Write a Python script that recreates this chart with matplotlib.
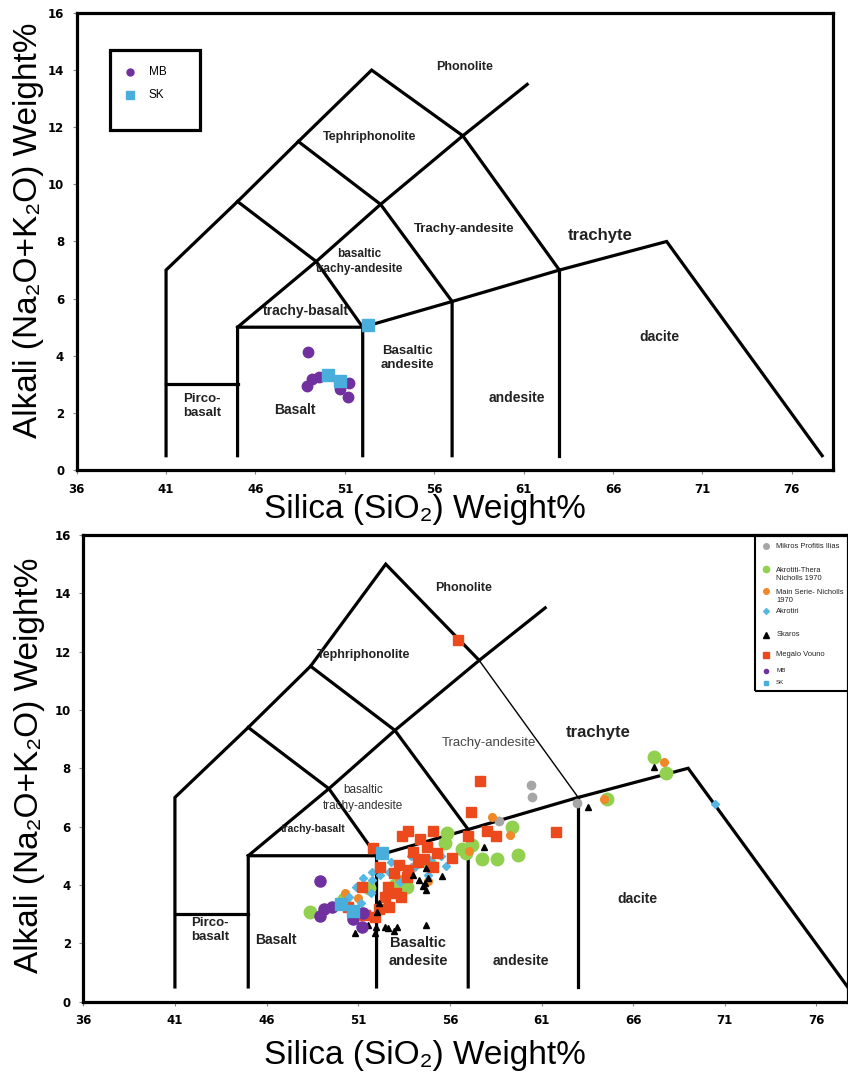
import matplotlib.pyplot as plt
from matplotlib.patches import Rectangle

# ---- TAS diagram data (SiO2 wt%, Na2O+K2O wt%) ----
mb_sio2 = [48.93, 49.15, 48.90, 49.58, 50.73, 51.24, 51.18]
mb_alk = [4.12, 3.18, 2.95, 3.25, 2.83, 3.04, 2.57]

sk_sio2 = [50.05, 50.73, 52.28]
sk_alk = [3.33, 3.12, 5.08]

mikros_sio2 = [60.42, 60.50, 58.68, 62.92, 53.99, 54.20]
mikros_alk = [7.42, 7.02, 6.19, 6.80, 4.62, 4.72]

thera_sio2 = [55.83, 55.73, 56.64, 57.19, 57.74, 58.55, 59.73, 59.37, 48.37, 51.59,
              53.64, 67.15, 67.79, 64.55, 50.20, 53.00, 54.90, 56.90]
thera_alk = [5.79, 5.42, 5.22, 5.37, 4.88, 4.88, 5.02, 6.00, 3.08, 3.88,
             3.94, 8.40, 7.85, 6.93, 3.50, 4.00, 4.70, 5.10]

main_sio2 = [58.28, 59.28, 50.28, 54.82, 57.06, 67.70, 64.42, 51.00, 53.20]
main_alk = [6.34, 5.71, 3.71, 4.14, 5.17, 8.22, 6.93, 3.55, 4.20]

akro_sio2 = [54.91, 55.77, 52.19, 52.69, 51.73, 51.27, 51.73, 50.88, 53.28, 54.10,
             54.82, 51.70, 51.13, 70.46, 50.50, 51.00, 52.80, 53.90, 55.50, 50.30]
akro_alk = [4.85, 4.65, 4.34, 4.45, 4.45, 4.22, 4.17, 3.94, 4.11, 4.65,
            4.34, 3.71, 3.37, 6.76, 3.60, 3.90, 4.80, 5.00, 5.00, 3.40]

skaros_sio2 = [57.88, 54.70, 55.59, 54.82, 54.00, 54.31, 54.64, 54.52, 54.68, 54.70,
               52.13, 52.04, 51.55, 51.97, 52.46, 52.64, 53.10, 52.97, 51.91, 50.82,
               67.15, 63.52]
skaros_alk = [5.29, 4.57, 4.31, 4.22, 4.34, 4.17, 4.05, 3.96, 3.82, 2.62,
              3.37, 3.08, 2.62, 2.57, 2.57, 2.51, 2.57, 2.43, 2.36, 2.36,
              8.03, 6.66]

megalo_sio2 = [57.65, 57.15, 53.70, 55.06, 53.40, 54.39, 58.01, 58.52, 57.00, 51.82,
               54.75, 54.00, 55.28, 56.10, 54.59, 54.28, 55.06, 53.73, 53.24, 52.19,
               52.95, 53.64, 51.22, 52.64, 53.04, 53.31, 52.46, 52.69, 52.15, 50.46,
               51.91, 51.37, 61.78, 56.46]
megalo_alk = [7.57, 6.51, 5.86, 5.86, 5.68, 5.57, 5.86, 5.68, 5.68, 5.25,
              5.31, 5.14, 5.08, 4.91, 4.88, 4.79, 4.60, 4.51, 4.68, 4.60,
              4.40, 4.28, 3.94, 3.94, 3.73, 3.57, 3.59, 3.25, 3.16, 3.25,
              2.91, 2.97, 5.82, 12.40]

x_ticks = [36, 41, 46, 51, 56, 61, 66, 71, 76]
y_ticks = [0, 2, 4, 6, 8, 10, 12, 14, 16]

PURPLE = '#7030a0'
BLUE = '#4aaedc'
GRAY = '#a6a6a6'
GREEN = '#92d050'
ORANGE = '#f0882a'
CYAN = '#55b8e4'
RED = '#ec4a1c'

LW = 2.3
tick_family = ['Liberation Sans Narrow', 'DejaVu Sans']
label_font = ['Liberation Sans', 'DejaVu Sans']


def draw_fields(ax, apex, thin_trachy=False):
    lines = [
        [(41, 0.5), (41, 7), (45, 9.4), (48.4, 11.5), (52.5, apex), (57.6, 11.7), (61.2, 13.5)],
        [(41, 3), (45, 3)],
        [(45, 0.5), (45, 5), (52, 5), (57, 5.9), (63, 7), (69, 8), (77.7, 0.5)],
        [(45, 5), (49.4, 7.3), (53, 9.3), (57.6, 11.7)],
        [(52, 0.5), (52, 5), (49.4, 7.3), (45, 9.4)],
        [(57, 0.5), (57, 5.9), (53, 9.3), (48.4, 11.5)],
        [(63, 0.5), (63, 7)],
    ]
    for pts in lines:
        xs, ys = zip(*pts)
        ax.plot(xs, ys, color='black', lw=LW, solid_joinstyle='miter', zorder=2)
    ax.plot([63, 57.6], [7, 11.7], color='black', lw=1.0 if thin_trachy else LW, zorder=2)


def style_axes(ax, xmax):
    ax.set_xlim(36, xmax)
    ax.set_ylim(0, 16)
    ax.set_xticks(x_ticks)
    ax.set_yticks(y_ticks)
    for s in ax.spines.values():
        s.set_linewidth(2.3)
    ax.tick_params(length=3, width=0.8, color='#888888', pad=6)
    for lab in ax.get_xticklabels() + ax.get_yticklabels():
        lab.set_fontfamily(tick_family)
        lab.set_fontweight('bold')
        lab.set_fontsize(8.5)
    ax.set_xlabel('Silica (SiO₂) Weight%', fontsize=24, family=label_font)
    ax.set_ylabel('Alkali (Na₂O+K₂O) Weight%', fontsize=24, family=label_font)


def field_text(ax, x, y, s, size=9.5, weight='bold', color='#222222', spacing=1.3):
    ax.text(x, y, s, ha='center', va='center', fontsize=size, fontweight=weight,
            color=color, family=label_font, linespacing=spacing, zorder=3)


fig = plt.figure(figsize=(8.48, 10.81), dpi=100)

# ---------------- upper diagram ----------------
ax1 = fig.add_axes([0.0904, 0.5652, 0.8918, 0.4228])
style_axes(ax1, 78.3)
draw_fields(ax1, 14.0)
ax1.xaxis.set_label_coords(0.46, -0.052)
ax1.yaxis.set_label_coords(-0.043, 0.525)

field_text(ax1, 57.67, 14.1, 'Phonolite', 9)
field_text(ax1, 52.4, 11.66, 'Tephriphonolite', 9)
field_text(ax1, 51.8, 7.3, 'basaltic\ntrachy-andesite', 8.5, spacing=1.35)
field_text(ax1, 57.7, 8.44, 'Trachy-andesite', 9.5)
field_text(ax1, 65.3, 8.2, 'trachyte', 12)
field_text(ax1, 48.85, 5.57, 'trachy-basalt', 10)
field_text(ax1, 68.6, 4.66, 'dacite', 10)
field_text(ax1, 54.5, 3.92, 'Basaltic\nandesite', 9.5)
field_text(ax1, 60.65, 2.52, 'andesite', 10)
field_text(ax1, 48.2, 2.1, 'Basalt', 10)
field_text(ax1, 43.0, 2.24, 'Pirco-\nbasalt', 9.5)

ax1.plot(mb_sio2, mb_alk, ls='none', marker='o', ms=7.5, color=PURPLE, zorder=4)
ax1.plot(sk_sio2, sk_alk, ls='none', marker='s', ms=9, color=BLUE, zorder=5)

# legend box
ax1.add_patch(Rectangle((0.044, 0.744), 0.119, 0.175, transform=ax1.transAxes,
                        fill=False, lw=2.3, ec='black', zorder=6))
ax1.plot([0.07], [0.870], marker='o', ms=5, color=PURPLE, transform=ax1.transAxes, zorder=6)
ax1.plot([0.07], [0.821], marker='s', ms=5.5, color=BLUE, transform=ax1.transAxes, zorder=6)
ax1.text(0.095, 0.870, 'MB', transform=ax1.transAxes, va='center', fontsize=8.5, family=label_font)
ax1.text(0.095, 0.821, 'SK', transform=ax1.transAxes, va='center', fontsize=8.5, family=label_font)

# ---------------- lower diagram ----------------
ax2 = fig.add_axes([0.0982, 0.0735, 0.9018, 0.4316])
style_axes(ax2, 77.72)
draw_fields(ax2, 15.0, thin_trachy=True)
ax2.xaxis.set_label_coords(0.447, -0.082)
ax2.yaxis.set_label_coords(-0.050, 0.507)

field_text(ax2, 56.77, 14.18, 'Phonolite', 9)
field_text(ax2, 51.31, 11.89, 'Tephriphonolite', 9)
field_text(ax2, 58.13, 8.87, 'Trachy-andesite', 9.5, weight='normal', color='#444444')
field_text(ax2, 64.08, 9.21, 'trachyte', 12)
field_text(ax2, 51.26, 6.98, 'basaltic\ntrachy-andesite', 8.5, weight='normal',
           color='#333333', spacing=1.4)
field_text(ax2, 48.54, 5.92, 'trachy-basalt', 7.5)
field_text(ax2, 66.21, 3.52, 'dacite', 10)
field_text(ax2, 46.52, 2.11, 'Basalt', 10)
field_text(ax2, 54.27, 1.70, 'Basaltic\nandesite', 10.5, spacing=1.35)
field_text(ax2, 59.90, 1.39, 'andesite', 10)
field_text(ax2, 42.92, 2.45, 'Pirco-\nbasalt', 9.5)

ax2.plot(mikros_sio2, mikros_alk, ls='none', marker='o', ms=6, color=GRAY, zorder=4)
ax2.plot(thera_sio2, thera_alk, ls='none', marker='o', ms=9, color=GREEN, zorder=4)
ax2.plot(main_sio2, main_alk, ls='none', marker='o', ms=5.5, color=ORANGE, zorder=4)
ax2.plot(akro_sio2, akro_alk, ls='none', marker='D', ms=4.5, color=CYAN, zorder=4)
ax2.plot(megalo_sio2, megalo_alk, ls='none', marker='s', ms=7, color=RED, zorder=4)
ax2.plot(skaros_sio2, skaros_alk, ls='none', marker='^', ms=5, color='black', zorder=4)
ax2.plot(mb_sio2, mb_alk, ls='none', marker='o', ms=8, color=PURPLE, zorder=5)
ax2.plot(sk_sio2, sk_alk, ls='none', marker='s', ms=9, color=BLUE, zorder=5)

# legend box
ax2.add_patch(Rectangle((0.878, 0.665), 0.2, 0.335, transform=ax2.transAxes,
                        fill=False, lw=1.5, ec='black', zorder=6, clip_on=False))
legend_rows = [
    (0.976, 'o', GRAY, 4, 'Mikros Profitis Ilias'),
    (0.927, 'o', GREEN, 4.5, 'Akrotiti-Thera\nNicholls 1970'),
    (0.880, 'o', ORANGE, 4, 'Main Serie- Nicholls\n1970'),
    (0.837, 'D', CYAN, 3, 'Akrotiri'),
    (0.786, '^', 'black', 4, 'Skaros'),
    (0.743, 's', RED, 5, 'Megalo Vouno'),
    (0.709, 'o', PURPLE, 3, 'MB'),
    (0.683, 's', BLUE, 3, 'SK'),
]
for y, m, c, size, name in legend_rows:
    ax2.plot([0.893], [y], marker=m, ms=size, color=c, transform=ax2.transAxes,
             zorder=6, clip_on=False)
    first_line_y = y + (0.0 if '\n' not in name else -0.012)
    ax2.text(0.906, first_line_y, name, transform=ax2.transAxes, va='center',
             fontsize=5.4 if len(name) > 3 else 4.5, family=label_font, color='#222222',
             linespacing=1.1, zorder=6)

fig.savefig('out.png', dpi=100, facecolor='white')
